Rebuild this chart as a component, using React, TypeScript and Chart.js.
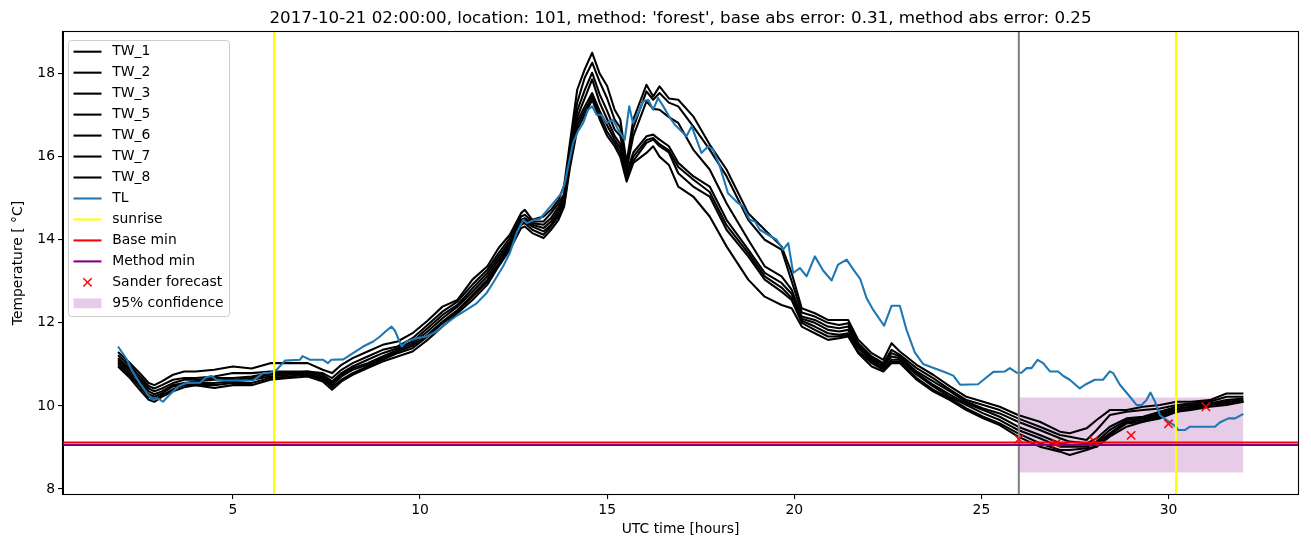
import React, { useEffect, useRef } from "react";
import { Chart, registerables } from "chart.js";

Chart.register(...registerables);

const FONT = "DejaVu Sans";

const TITLE = "2017-10-21 02:00:00, location: 101, method: 'forest', base abs error: 0.31, method abs error: 0.25";
const X_LABEL = "UTC time [hours]";
const Y_LABEL = "Temperature [ °C]";

const xTicks = [5, 10, 15, 20, 25, 30];
const yTicks = [8, 10, 12, 14, 16, 18];
const xRange = [0.46, 33.46];
const yRange = [7.88, 19.0];

const twLabels = ["TW_1", "TW_2", "TW_3", "TW_5", "TW_6", "TW_7", "TW_8"];

const twHours = [
  1.93, 2.25, 2.5, 2.75, 2.9, 3.1, 3.4, 3.7, 4.0, 4.5,
  5.0, 5.5, 6.0, 6.5, 7.0, 7.4, 7.65, 7.9, 8.2, 8.6,
  9.0, 9.4, 9.8, 10.2, 10.6, 11.0, 11.4, 11.8, 12.1, 12.4,
  12.7, 12.8, 13.0, 13.3, 13.5, 13.7, 13.85, 14.0, 14.2, 14.4,
  14.6, 14.8, 15.0, 15.2, 15.35, 15.52, 15.7, 16.05, 16.23, 16.4,
  16.65, 16.9, 17.3, 17.74, 18.19, 18.77, 19.21, 19.66, 19.93, 20.2,
  20.55, 20.9, 21.2, 21.44, 21.71, 22.07, 22.38, 22.6, 22.82, 23.27,
  23.71, 24.16, 24.6, 25.05, 25.49, 25.98, 26.56, 27.1, 27.36, 27.81,
  28.08, 28.43, 28.88, 29.32, 29.77, 30.22, 30.6, 31.1, 31.55, 32.0,
];

const tw1 = [
  11.30, 11.03, 10.80, 10.55, 10.50, 10.59, 10.75, 10.83, 10.83, 10.87,
  10.95, 10.90, 11.03, 11.03, 11.03, 10.87, 10.79, 10.99, 11.15, 11.31,
  11.47, 11.55, 11.75, 12.05, 12.39, 12.55, 13.04, 13.36, 13.80, 14.12,
  14.64, 14.72, 14.48, 14.56, 14.72, 14.96, 15.30, 16.30, 17.61, 18.10,
  18.50, 18.00, 17.70, 17.13, 16.90, 15.85, 16.90, 17.73, 17.45, 17.69,
  17.40, 17.37, 16.97, 16.29, 15.69, 14.64, 14.24, 13.84, 13.20, 12.35,
  12.23, 12.07, 12.07, 12.07, 11.59, 11.27, 11.11, 11.51, 11.31, 10.99,
  10.75, 10.47, 10.22, 10.10, 9.98, 9.78, 9.62, 9.38, 9.34, 9.46,
  9.66, 9.90, 9.90, 9.98, 10.02, 10.10, 10.10, 10.14, 10.30, 10.30,
];
const tw2 = [
  11.22, 10.97, 10.72, 10.48, 10.42, 10.50, 10.63, 10.67, 10.67, 10.71,
  10.79, 10.79, 10.83, 10.83, 10.83, 10.79, 10.67, 10.87, 11.03, 11.19,
  11.35, 11.43, 11.63, 11.95, 12.27, 12.51, 12.92, 13.28, 13.68, 14.04,
  14.56, 14.60, 14.44, 14.44, 14.64, 14.88, 15.10, 16.20, 17.30, 17.90,
  18.26, 17.80, 17.40, 16.89, 16.70, 15.77, 16.70, 17.57, 17.37, 17.53,
  17.30, 17.21, 16.73, 16.17, 15.53, 14.48, 14.00, 13.76, 13.00, 12.25,
  12.15, 12.00, 11.95, 11.99, 11.51, 11.19, 11.03, 11.35, 11.23, 10.91,
  10.67, 10.39, 10.14, 10.02, 9.90, 9.70, 9.50, 9.30, 9.26, 9.18,
  9.42, 9.78, 9.86, 9.90, 9.94, 10.02, 10.06, 10.10, 10.22, 10.22,
];
const tw3 = [
  11.15, 10.90, 10.65, 10.42, 10.35, 10.42, 10.55, 10.63, 10.63, 10.67,
  10.67, 10.71, 10.79, 10.79, 10.83, 10.75, 10.59, 10.79, 10.95, 11.11,
  11.27, 11.39, 11.55, 11.87, 12.19, 12.43, 12.83, 13.20, 13.60, 13.96,
  14.48, 14.52, 14.40, 14.36, 14.52, 14.80, 15.04, 16.10, 17.10, 17.60,
  18.02, 17.50, 17.10, 16.65, 16.50, 15.70, 16.50, 17.33, 17.15, 17.13,
  16.95, 16.81, 16.17, 15.69, 14.88, 14.00, 13.36, 13.12, 12.80, 12.15,
  12.07, 11.91, 11.87, 11.91, 11.47, 11.15, 10.99, 11.27, 11.19, 10.83,
  10.59, 10.35, 10.10, 9.94, 9.82, 9.62, 9.42, 9.22, 9.14, 9.10,
  9.22, 9.50, 9.70, 9.74, 9.86, 9.98, 10.02, 10.06, 10.14, 10.18,
];
const tw5 = [
  11.10, 10.85, 10.60, 10.35, 10.28, 10.35, 10.50, 10.55, 10.59, 10.63,
  10.63, 10.67, 10.75, 10.79, 10.79, 10.71, 10.55, 10.75, 10.91, 11.03,
  11.19, 11.35, 11.50, 11.79, 12.11, 12.39, 12.75, 13.12, 13.52, 13.92,
  14.44, 14.48, 14.36, 14.28, 14.44, 14.72, 14.96, 16.00, 16.95, 17.40,
  17.86, 17.30, 16.90, 16.50, 16.30, 15.62, 16.10, 16.49, 16.53, 16.41,
  16.25, 15.85, 15.53, 15.28, 14.48, 13.76, 13.20, 12.96, 12.70, 12.10,
  12.00, 11.83, 11.79, 11.83, 11.43, 11.11, 10.95, 11.19, 11.15, 10.79,
  10.51, 10.27, 10.06, 9.90, 9.74, 9.50, 9.30, 9.10, 9.06, 9.06,
  9.14, 9.42, 9.66, 9.70, 9.82, 9.94, 9.98, 10.06, 10.10, 10.14,
];
const tw6 = [
  11.05, 10.78, 10.52, 10.28, 10.22, 10.30, 10.47, 10.50, 10.55, 10.55,
  10.59, 10.63, 10.71, 10.75, 10.75, 10.67, 10.50, 10.71, 10.87, 10.99,
  11.15, 11.31, 11.45, 11.71, 12.03, 12.31, 12.67, 13.04, 13.44, 13.88,
  14.40, 14.44, 14.32, 14.20, 14.36, 14.64, 14.90, 15.90, 16.85, 17.20,
  17.53, 17.10, 16.75, 16.41, 16.20, 15.55, 16.00, 16.40, 16.45, 16.30,
  16.15, 15.75, 15.45, 15.15, 14.35, 13.68, 13.12, 12.85, 12.60, 12.05,
  11.91, 11.75, 11.71, 11.75, 11.39, 11.07, 10.91, 11.11, 11.11, 10.75,
  10.47, 10.22, 10.02, 9.82, 9.66, 9.42, 9.22, 9.02, 9.02, 9.02,
  9.10, 9.34, 9.62, 9.66, 9.78, 9.90, 9.98, 10.02, 10.10, 10.10,
];
const tw7 = [
  11.00, 10.72, 10.47, 10.22, 10.15, 10.25, 10.40, 10.50, 10.50, 10.50,
  10.55, 10.55, 10.67, 10.71, 10.75, 10.63, 10.45, 10.63, 10.79, 10.95,
  11.11, 11.27, 11.39, 11.67, 11.99, 12.27, 12.63, 12.99, 13.40, 13.84,
  14.36, 14.40, 14.24, 14.12, 14.32, 14.56, 14.85, 15.80, 16.75, 17.10,
  17.45, 17.00, 16.60, 16.33, 16.10, 15.48, 15.90, 16.33, 16.41, 16.25,
  16.10, 15.60, 15.28, 15.04, 14.24, 13.60, 13.04, 12.75, 12.55, 12.00,
  11.83, 11.67, 11.67, 11.71, 11.31, 11.03, 10.87, 11.07, 11.07, 10.67,
  10.39, 10.18, 9.94, 9.74, 9.58, 9.34, 9.10, 8.94, 8.94, 8.98,
  9.02, 9.30, 9.58, 9.62, 9.74, 9.86, 9.94, 10.02, 10.06, 10.10,
];
const tw8 = [
  10.95, 10.67, 10.40, 10.15, 10.10, 10.22, 10.35, 10.45, 10.50, 10.43,
  10.50, 10.50, 10.63, 10.67, 10.71, 10.59, 10.39, 10.59, 10.75, 10.91,
  11.07, 11.19, 11.31, 11.59, 11.91, 12.23, 12.55, 12.92, 13.36, 13.76,
  14.28, 14.32, 14.16, 14.04, 14.24, 14.48, 14.80, 15.70, 16.65, 17.00,
  17.37, 16.90, 16.50, 16.25, 16.00, 15.40, 15.85, 16.09, 16.25, 16.00,
  15.80, 15.28, 15.04, 14.56, 13.84, 13.04, 12.63, 12.43, 12.35, 11.91,
  11.75, 11.59, 11.63, 11.67, 11.27, 10.95, 10.83, 11.03, 11.03, 10.63,
  10.35, 10.14, 9.90, 9.70, 9.54, 9.26, 9.02, 8.90, 8.82, 8.94,
  9.02, 9.26, 9.50, 9.62, 9.70, 9.86, 9.90, 9.98, 10.02, 10.10,
];
const twSeries = [tw1, tw2, tw3, tw5, tw6, tw7, tw8];

const tlHours = [
  1.93, 2.16, 2.29, 2.51, 2.73, 2.87, 3.00, 3.13, 3.31, 3.54,
  3.76, 4.12, 4.29, 4.43, 4.56, 4.74, 5.54, 5.81, 5.99, 6.17,
  6.39, 6.79, 6.86, 7.06, 7.41, 7.54, 7.63, 7.95, 8.21, 8.48,
  8.75, 8.93, 9.10, 9.24, 9.33, 9.51, 9.64, 9.91, 10.17, 10.44,
  10.71, 10.98, 11.24, 11.51, 11.78, 11.95, 12.22, 12.40, 12.58, 12.76,
  12.85, 13.07, 13.20, 13.56, 13.78, 13.87, 13.96, 14.09, 14.22, 14.36,
  14.49, 14.60, 14.72, 14.85, 14.98, 15.16, 15.29, 15.47, 15.59, 15.69,
  15.83, 15.96, 16.10, 16.23, 16.36, 16.50, 16.68, 16.81, 16.94, 17.12,
  17.26, 17.39, 17.52, 17.70, 17.83, 18.01, 18.23, 18.50, 18.63, 18.81,
  18.95, 19.08, 19.30, 19.53, 19.70, 19.84, 19.97, 20.15, 20.33, 20.55,
  20.77, 21.00, 21.17, 21.40, 21.58, 21.76, 21.93, 22.11, 22.40, 22.60,
  22.82, 23.00, 23.22, 23.44, 23.67, 23.98, 24.25, 24.43, 24.91, 25.14,
  25.32, 25.63, 25.76, 25.94, 26.07, 26.21, 26.34, 26.50, 26.65, 26.83,
  27.05, 27.19, 27.36, 27.63, 27.77, 28.03, 28.25, 28.43, 28.52, 28.70,
  28.97, 29.15, 29.28, 29.41, 29.52, 29.64, 29.77, 29.95, 30.17, 30.26,
  30.44, 30.57, 31.24, 31.37, 31.60, 31.78, 32.00,
];
const tlValues = [
  11.43, 11.13, 10.87, 10.55, 10.27, 10.14, 10.18, 10.10, 10.27, 10.47,
  10.55, 10.56, 10.69, 10.72, 10.63, 10.61, 10.61, 10.79, 10.80, 10.87,
  11.09, 11.11, 11.20, 11.11, 11.11, 11.03, 11.11, 11.12, 11.27, 11.43,
  11.55, 11.67, 11.81, 11.91, 11.81, 11.43, 11.55, 11.63, 11.67, 11.79,
  11.99, 12.17, 12.31, 12.47, 12.72, 12.96, 13.36, 13.68, 14.16, 14.48,
  14.40, 14.48, 14.50, 14.88, 15.12, 15.37, 15.77, 16.33, 16.61, 16.81,
  17.13, 17.21, 17.01, 17.01, 16.81, 16.89, 16.65, 16.41, 17.21, 16.81,
  17.05, 17.33, 17.37, 17.13, 17.41, 17.21, 16.93, 16.77, 16.65, 16.49,
  16.73, 16.41, 16.09, 16.25, 16.17, 15.77, 15.12, 14.88, 14.80, 14.48,
  14.44, 14.24, 14.12, 14.00, 13.76, 13.92, 13.20, 13.32, 13.12, 13.60,
  13.26, 13.02, 13.40, 13.52, 13.28, 13.06, 12.60, 12.31, 11.93, 12.41,
  12.41, 11.83, 11.29, 11.01, 10.93, 10.83, 10.73, 10.51, 10.52, 10.69,
  10.82, 10.83, 10.91, 10.80, 10.80, 10.91, 10.91, 11.11, 11.03, 10.83,
  10.83, 10.72, 10.63, 10.42, 10.51, 10.63, 10.63, 10.83, 10.79, 10.51,
  10.22, 10.02, 10.02, 10.14, 10.32, 10.10, 9.78, 9.66, 9.52, 9.42,
  9.42, 9.50, 9.50, 9.60, 9.70, 9.70, 9.81,
];

const sunriseHours = [6.1, 30.2];
const forecastStart = 26;
const baseMin = 9.12;
const methodMin = 9.06;
const sanderHours = [26, 27, 28, 29, 30, 31];
const sanderValues = [9.2, 9.1, 9.16, 9.29, 9.57, 9.98];
const confHours = [26, 32];
const confLower = 8.4;
const confUpper = 10.2;

const BAND_COLOR = "rgba(128,0,128,0.2)";
const LW = 2.08;

function buildDatasets(): any[] {
  const ds: any[] = [];
  twLabels.forEach((label, i) => {
    ds.push({
      label,
      legendKind: "line",
      data: twHours.map((h, j) => ({ x: h, y: twSeries[i][j] })),
      borderColor: "#000000",
      borderWidth: LW,
      pointRadius: 0,
      tension: 0,
      borderJoinStyle: "round",
      order: 60 - i,
    });
  });
  ds.push({
    label: "TL",
    legendKind: "line",
    data: tlHours.map((h, j) => ({ x: h, y: tlValues[j] })),
    borderColor: "#1f77b4",
    borderWidth: LW,
    pointRadius: 0,
    tension: 0,
    borderJoinStyle: "round",
    order: 40,
  });
  ds.push({
    label: "sunrise",
    legendKind: "line",
    data: sunriseHours.flatMap((h) => [
      { x: h, y: yRange[0] },
      { x: h, y: yRange[1] },
      { x: h, y: null },
    ]),
    borderColor: "#ffff00",
    borderWidth: LW,
    pointRadius: 0,
    spanGaps: false,
    order: 30,
  });
  ds.push({
    label: "Base min",
    legendKind: "line",
    data: [
      { x: xRange[0], y: baseMin },
      { x: xRange[1], y: baseMin },
    ],
    borderColor: "#ff0000",
    borderWidth: LW,
    pointRadius: 0,
    order: 25,
  });
  ds.push({
    label: "Method min",
    legendKind: "line",
    data: [
      { x: xRange[0], y: methodMin },
      { x: xRange[1], y: methodMin },
    ],
    borderColor: "#800080",
    borderWidth: LW,
    pointRadius: 0,
    order: 24,
  });
  ds.push({
    label: "Sander forecast",
    legendKind: "marker",
    data: sanderHours.map((h, j) => ({ x: h, y: sanderValues[j] })),
    showLine: false,
    pointStyle: "crossRot",
    pointRadius: 5.9,
    pointBorderWidth: 1.5,
    pointBorderColor: "#ff0000",
    pointBackgroundColor: "#ff0000",
    borderColor: "#ff0000",
    order: 20,
  });
  ds.push({
    label: "95% confidence",
    legendKind: "patch",
    data: confHours.map((h) => ({ x: h, y: confUpper })),
    fill: { value: confLower },
    backgroundColor: BAND_COLOR,
    borderWidth: 0,
    borderColor: "rgba(0,0,0,0)",
    pointRadius: 0,
    order: 100,
  });
  ds.push({
    label: "",
    data: [
      { x: forecastStart, y: yRange[0] },
      { x: forecastStart, y: yRange[1] },
    ],
    borderColor: "#808080",
    borderWidth: LW,
    pointRadius: 0,
    order: 35,
  });
  return ds;
}

function roundRectPath(ctx: CanvasRenderingContext2D, x: number, y: number, w: number, h: number, r: number) {
  ctx.beginPath();
  ctx.moveTo(x + r, y);
  ctx.lineTo(x + w - r, y);
  ctx.arcTo(x + w, y, x + w, y + r, r);
  ctx.lineTo(x + w, y + h - r);
  ctx.arcTo(x + w, y + h, x + w - r, y + h, r);
  ctx.lineTo(x + r, y + h);
  ctx.arcTo(x, y + h, x, y + h - r, r);
  ctx.lineTo(x, y + r);
  ctx.arcTo(x, y, x + r, y, r);
  ctx.closePath();
}

const mplPlugin = {
  id: "mplDecor",
  afterDraw(chart: any) {
    const ctx: CanvasRenderingContext2D = chart.ctx;
    const a = chart.chartArea;
    ctx.save();

    // frame
    ctx.strokeStyle = "#000000";
    ctx.lineWidth = 1.1;
    ctx.strokeRect(a.left - 0.5, a.top - 0.5, a.right - a.left + 1, a.bottom - a.top + 1);

    // title
    ctx.fillStyle = "#000000";
    ctx.font = `16.7px "${FONT}"`;
    ctx.textAlign = "center";
    ctx.textBaseline = "alphabetic";
    ctx.fillText(TITLE, (a.left + a.right) / 2, 23);

    // x label
    ctx.font = `13.9px "${FONT}"`;
    ctx.textBaseline = "top";
    ctx.fillText(X_LABEL, (a.left + a.right) / 2, 522);

    // y label
    ctx.save();
    ctx.translate(18, (a.top + a.bottom) / 2);
    ctx.rotate(-Math.PI / 2);
    ctx.textBaseline = "middle";
    ctx.fillText(Y_LABEL, 0, 0);
    ctx.restore();

    // legend
    const lx = 68.5, ly = 40.5, lw = 161, lh = 276;
    roundRectPath(ctx, lx, ly, lw, lh, 3);
    ctx.fillStyle = "rgba(255,255,255,0.8)";
    ctx.fill();
    ctx.strokeStyle = "#cccccc";
    ctx.lineWidth = 1;
    ctx.stroke();

    const items = chart.data.datasets.filter((d: any) => d.legendKind);
    const hx0 = 73.5, hx1 = 101.5, tx = 112.3;
    items.forEach((d: any, i: number) => {
      const cy = 51.7 + 20.97 * i;
      if (d.legendKind === "line") {
        ctx.strokeStyle = d.borderColor;
        ctx.lineWidth = d.borderWidth;
        ctx.beginPath();
        ctx.moveTo(hx0, cy);
        ctx.lineTo(hx1, cy);
        ctx.stroke();
      } else if (d.legendKind === "marker") {
        const cx = (hx0 + hx1) / 2;
        const s = 4.17;
        ctx.strokeStyle = d.pointBorderColor;
        ctx.lineWidth = d.pointBorderWidth;
        ctx.beginPath();
        ctx.moveTo(cx - s, cy - s);
        ctx.lineTo(cx + s, cy + s);
        ctx.moveTo(cx - s, cy + s);
        ctx.lineTo(cx + s, cy - s);
        ctx.stroke();
      } else if (d.legendKind === "patch") {
        ctx.fillStyle = d.backgroundColor;
        ctx.fillRect(hx0, cy - 4.9, hx1 - hx0, 9.8);
      }
      ctx.fillStyle = "#000000";
      ctx.font = `13.9px "${FONT}"`;
      ctx.textAlign = "left";
      ctx.textBaseline = "middle";
      ctx.fillText(d.label, tx, cy);
    });

    ctx.restore();
  },
};

export default function App() {
  const ref = useRef<HTMLCanvasElement>(null);

  useEffect(() => {
    const canvas = ref.current;
    if (!canvas) return;
    Chart.defaults.font.family = FONT;
    const tickFont = { family: FONT, size: 13.9 };
    const gridOpts = {
      display: true,
      drawOnChartArea: false,
      drawTicks: true,
      tickLength: 5,
      color: "#000000",
      lineWidth: 1.1,
    };
    const chart = new Chart(canvas, {
      type: "line",
      data: { datasets: buildDatasets() },
      options: {
        animation: false,
        responsive: false,
        devicePixelRatio: 1,
        events: [],
        layout: { padding: { left: 0, right: 13, top: 32, bottom: 0 } },
        plugins: {
          legend: { display: false },
          title: { display: false },
          tooltip: { enabled: false },
        },
        scales: {
          x: {
            type: "linear",
            min: xRange[0],
            max: xRange[1],
            afterBuildTicks: (s: any) => {
              s.ticks = xTicks.map((v) => ({ value: v }));
            },
            afterFit: (s: any) => {
              s.height = 53;
            },
            grid: gridOpts,
            border: { display: true, color: "#000000", width: 1 },
            ticks: {
              color: "#000000",
              font: tickFont,
              padding: 3,
              maxRotation: 0,
              autoSkip: false,
              callback: (v: any) => String(v),
            },
          },
          y: {
            type: "linear",
            min: yRange[0],
            max: yRange[1],
            afterBuildTicks: (s: any) => {
              s.ticks = yTicks.map((v) => ({ value: v }));
            },
            afterFit: (s: any) => {
              s.width = 63;
            },
            grid: gridOpts,
            border: { display: true, color: "#000000", width: 1 },
            ticks: {
              color: "#000000",
              font: tickFont,
              padding: 3,
              autoSkip: false,
              callback: (v: any) => String(v),
            },
          },
        },
      } as any,
      plugins: [mplPlugin],
    });
    return () => chart.destroy();
  }, []);

  return (
    <div style={{ position: "absolute", left: 0, top: 0, width: 1311, height: 547, background: "#ffffff" }}>
      <canvas ref={ref} width={1311} height={547} style={{ display: "block", width: 1311, height: 547 }} />
    </div>
  );
}
